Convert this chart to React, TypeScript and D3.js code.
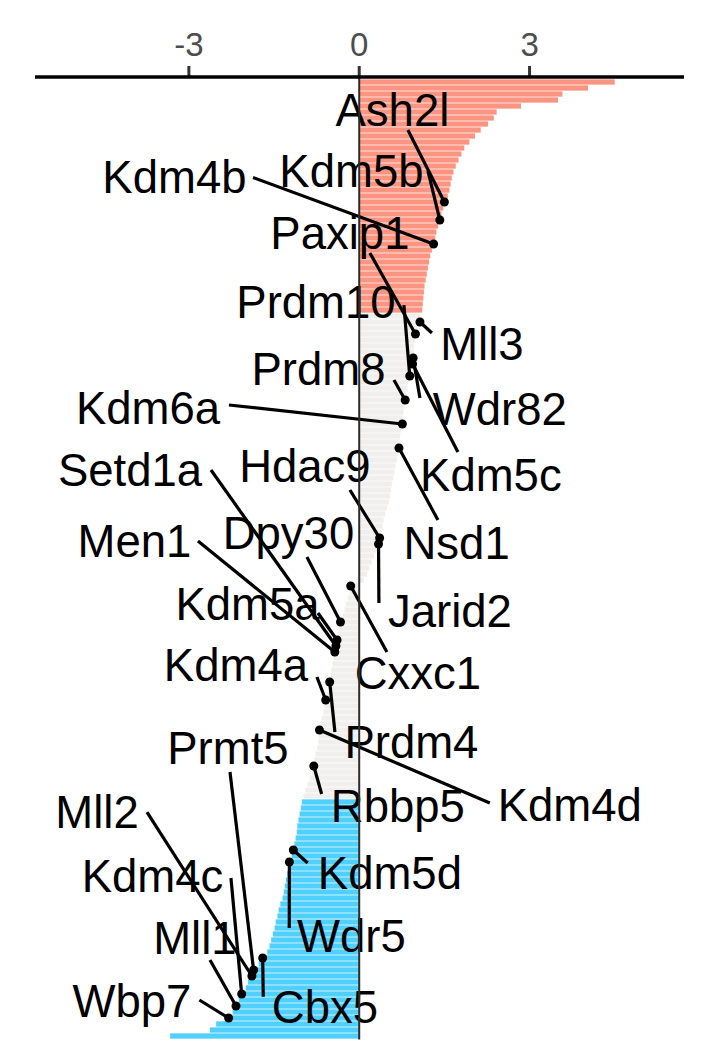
import * as d3 from "d3";

// ranked scores, one bar per gene (top = highest)
const barValues = [
  4.5, 4.03, 3.58, 3.5, 2.85, 2.42, 2.37, 2.27, 2.14, 2.04,
  1.94, 1.85, 1.8, 1.75, 1.7, 1.66, 1.63, 1.61, 1.59, 1.56,
  1.5, 1.48, 1.45, 1.42, 1.39, 1.36, 1.34, 1.31, 1.28, 1.25,
  1.23, 1.21, 1.19, 1.17, 1.15, 1.14, 1.13, 1.12, 1.11, 1.08,
  1.07, 1.03, 0.99, 0.98, 0.97, 0.96, 0.95, 0.94, 0.91, 0.89,
  0.87, 0.85, 0.83, 0.81, 0.8, 0.78, 0.77, 0.76, 0.74, 0.72,
  0.71, 0.7, 0.68, 0.66, 0.64, 0.62, 0.6, 0.58, 0.56, 0.54,
  0.52, 0.49, 0.46, 0.43, 0.41, 0.38, 0.36, 0.34, 0.3, 0.26,
  0.22, 0.18, 0.14, 0.08, -0.15, -0.17, -0.2, -0.23, -0.26, -0.29,
  -0.33, -0.35, -0.37, -0.39, -0.41, -0.43, -0.45, -0.47, -0.49, -0.5,
  -0.52, -0.54, -0.56, -0.59, -0.61, -0.63, -0.66, -0.68, -0.7, -0.71,
  -0.72, -0.74, -0.77, -0.79, -0.8, -0.83, -0.87, -0.91, -0.95, -0.98,
  -1.01, -1.03, -1.05, -1.07, -1.09, -1.1, -1.12, -1.14, -1.16, -1.19,
  -1.23, -1.25, -1.27, -1.29, -1.31, -1.33, -1.35, -1.39, -1.42, -1.44,
  -1.47, -1.49, -1.52, -1.55, -1.58, -1.62, -1.7, -1.77, -1.86, -1.89,
  -1.96, -2.0, -2.07, -2.12, -2.17, -2.23, -2.3, -2.52, -2.63, -3.33,
];
const upCount = 39;
const downCount = 40;

const xTicks = [-3, 0, 3];

const geneNames = [
  "Ash2l", "Kdm5b", "Kdm4b", "Paxip1", "Prdm10", "Mll3", "Prdm8", "Wdr82", "Kdm5c", "Kdm6a",
  "Nsd1", "Hdac9", "Jarid2", "Setd1a", "Men1", "Dpy30", "Kdm5a", "Cxxc1", "Kdm4a", "Prdm4",
  "Kdm4d", "Rbbp5", "Prmt5", "Mll2", "Kdm5d", "Kdm4c", "Wdr5", "Mll1", "Wbp7", "Cbx5",
];
const geneRanks = [
  20, 23, 27, 42, 49, 40, 53, 46, 47, 57,
  61, 76, 77, 94, 95, 90, 93, 84, 103, 100,
  108, 114, 148, 149, 128, 152, 130, 154, 156, 146,
];

// repelled label layout, in data units: [score, rank]
const labelPos: [number, number][] = [
  [0.585, 4.67], [-0.137, 14.75], [-3.254, 15.83], [-0.34, 25.08], [-0.762, 36.67],
  [2.16, 43.58], [-0.718, 47.72], [2.477, 54.5], [2.319, 65.38], [-3.72, 54.2],
  [1.715, 76.7], [-0.956, 64.0], [1.597, 88.17], [-4.037, 64.67], [-3.958, 76.5],
  [-1.246, 75.17], [-1.968, 86.9], [1.033, 98.5], [-2.171, 97.17], [0.919, 110.0],
  [3.709, 120.5], [0.681, 120.67], [-2.312, 110.93], [-4.618, 121.67], [0.54, 131.83],
  [-3.641, 132.33], [-0.137, 142.33], [-2.893, 142.67], [-4.002, 153.17], [-0.604, 154.17],
];
const segStart: [number, number][] = [
  [0.857, 8.0], [1.21, 14.83], [-1.871, 15.92], [0.188, 28.5], [0.787, 37.17],
  [1.28, 41.83], [0.611, 49.67], [1.069, 52.67], [1.738, 61.67], [-2.294, 53.83],
  [1.386, 73.0], [-0.164, 68.0], [0.347, 86.83], [-2.611, 64.67], [-2.84, 76.5],
  [-0.921, 79.17], [-0.727, 88.5], [0.488, 95.0], [-0.745, 99.17], [-0.428, 108.33],
  [2.3, 120.17], [-0.662, 118.67], [-2.276, 115.0], [-3.738, 121.67], [-0.908, 130.17],
  [-2.259, 132.67], [-1.232, 141.0], [-2.628, 146.33], [-2.815, 153.0], [-1.69, 152.45],
];

const W = 708;
const H = 1062;
const axisY = 77;
const colUp = "#fb9581";
const colNs = "#f0efed";
const colDown = "#4fd0fe";

export default function App() {
  const n = barValues.length;
  const x = d3.scaleLinear().domain([-5.71, 5.72]).range([35, 684]);
  const y = d3
    .scaleBand<number>()
    .domain(d3.range(n))
    .range([79, 1039])
    .paddingInner(0.12)
    .paddingOuter(0.06);
  const rankY = (r: number) => (y(0) ?? 0) + y.bandwidth() / 2 + r * y.step();
  const fill = (i: number) => (i < upCount ? colUp : i >= n - downCount ? colDown : colNs);

  return (
    <svg
      width={W}
      height={H}
      style={{ position: "absolute", left: 0, top: 0, background: "#fff" }}
      fontFamily="'Liberation Sans', Arial, sans-serif"
    >
      <g>
        {barValues.map((v, i) => (
          <rect
            key={i}
            x={Math.min(x(0), x(v))}
            width={Math.abs(x(v) - x(0))}
            y={y(i)}
            height={y.bandwidth()}
            fill={fill(i)}
          />
        ))}
      </g>

      {geneNames.map((g, k) => {
        const r = geneRanks[k];
        return (
          <g key={g}>
            <line
              x1={x(segStart[k][0])}
              y1={rankY(segStart[k][1])}
              x2={x(barValues[r])}
              y2={rankY(r)}
              stroke="#000"
              strokeWidth={3.2}
            />
            <circle cx={x(barValues[r])} cy={rankY(r)} r={4.5} fill="#000" />
            <text
              x={x(labelPos[k][0])}
              y={rankY(labelPos[k][1])}
              dy="0.36em"
              textAnchor="middle"
              fontSize={45.5}
              fill="#000"
            >
              {g}
            </text>
          </g>
        );
      })}

      {/* zero line */}
      <line x1={x(0)} x2={x(0)} y1={axisY} y2={1039.5} stroke="#2b2b2b" strokeWidth={2} />

      {/* top axis */}
      {xTicks.map((t) => (
        <g key={t}>
          <line x1={x(t)} x2={x(t)} y1={66} y2={axisY} stroke="#333" strokeWidth={3} />
          <text x={x(t)} y={56} textAnchor="middle" fontSize={33} fill="#4d4d4d">
            {t}
          </text>
        </g>
      ))}
      <line x1={35} x2={684} y1={axisY} y2={axisY} stroke="#000" strokeWidth={3.5} />
    </svg>
  );
}
